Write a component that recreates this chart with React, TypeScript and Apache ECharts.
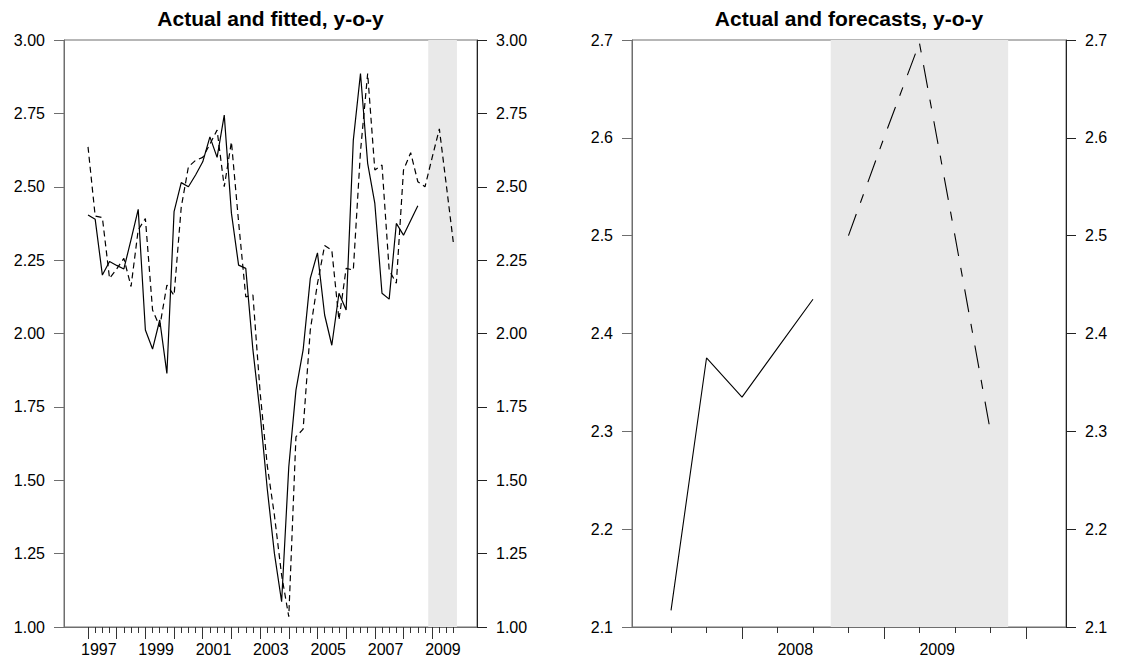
import React, { useEffect, useRef } from "react";
import * as echarts from "echarts";

// quarter index 0 = 1997Q1
const firstYear = 1997;
const leftTitle = "Actual and fitted, y-o-y";
const rightTitle = "Actual and forecasts, y-o-y";

// actual, y-o-y (1997Q1 .. 2008Q3)
const actual = [
  2.404, 2.389, 2.199, 2.245, 2.232, 2.22, 2.32, 2.423,
  2.012, 1.947, 2.046, 1.864, 2.415, 2.514, 2.5, 2.54,
  2.585, 2.67, 2.6, 2.744, 2.41, 2.233, 2.222, 1.944,
  1.728, 1.47, 1.25, 1.086, 1.546, 1.807, 1.944, 2.188,
  2.275, 2.063, 1.96, 2.137, 2.08, 2.659, 2.886, 2.58,
  2.443, 2.137, 2.117, 2.375, 2.335, 2.385, 2.435,
];

// fitted + forecast (1997Q1 .. 2009Q4)
const fitted = [
  2.636, 2.4, 2.395, 2.188, 2.22, 2.256, 2.16, 2.353,
  2.392, 2.08, 2.023, 2.165, 2.13, 2.43, 2.568, 2.59,
  2.6, 2.645, 2.693, 2.5, 2.653, 2.38, 2.125, 2.131,
  1.8, 1.55, 1.38, 1.177, 1.035, 1.648, 1.674, 2.012,
  2.17, 2.3, 2.284, 2.046, 2.222, 2.216, 2.62, 2.886,
  2.557, 2.574, 2.216, 2.171, 2.557, 2.616, 2.517, 2.5,
  2.6, 2.697, 2.5, 2.3,
];

const rightActualStart = 42; // 2007Q3
const forecastStart = 47; // 2008Q4

// x tick positions (quarter indices)
const leftMinorTicks = Array.from({ length: 52 }, (_, i) => i);
const leftMajorTicks = [0, 4, 8, 12, 16, 20, 24, 28, 32, 36, 40, 44, 48];
const leftLabelPos = [1.5, 9.5, 17.5, 25.5, 33.5, 41.5, 49.5];
const rightMinorTicks = [42, 43, 44, 45, 46, 47, 48, 49, 50, 51, 52];
const rightMajorTicks = [44, 48, 52];
const rightLabelPos = [45.5, 49.5];

// shaded forecast window
const leftShade = [47.45, 51.45];
const rightShade = [46.5, 51.5];

const FONT = "'Liberation Sans', Arial, Helvetica, sans-serif";
const AXIS_GRAY = "#6e6e6e";

export default function App() {
  const ref = useRef<HTMLDivElement>(null);

  useEffect(() => {
    const chart = echarts.init(ref.current!, null, { renderer: "svg" });

    const yearFmt = (v: number) => String(firstYear + Math.floor(v / 4));
    const labelStyle = { color: "#000", fontFamily: FONT, fontSize: 16 };

    const xMinor = (grid: number, min: number, max: number, ticks: number[], labels: number[]) => ({
      type: "value",
      gridIndex: grid,
      position: "bottom",
      min,
      max,
      axisLine: { show: true, onZero: false, lineStyle: { color: AXIS_GRAY, width: 1 } },
      axisTick: { show: true, customValues: ticks, length: 6, lineStyle: { color: "#333", width: 1 } },
      axisLabel: { show: true, customValues: labels, formatter: yearFmt, margin: 14, ...labelStyle },
      splitLine: { show: false },
    });
    const xMajor = (grid: number, min: number, max: number, ticks: number[]) => ({
      type: "value",
      gridIndex: grid,
      position: "bottom",
      offset: 0,
      min,
      max,
      axisLine: { show: false, onZero: false },
      axisTick: { show: true, customValues: ticks, length: 12, lineStyle: { color: "#333", width: 1 } },
      axisLabel: { show: false },
      splitLine: { show: false },
    });
    const yAx = (grid: number, pos: string, min: number, max: number, interval: number, dec: number) => ({
      type: "value",
      gridIndex: grid,
      position: pos,
      min,
      max,
      interval,
      axisLine: { show: true, onZero: false, lineStyle: { color: pos === "left" ? AXIS_GRAY : "#222", width: 1 } },
      axisTick: { show: true, length: 10, lineStyle: { color: pos === "left" ? AXIS_GRAY : "#222", width: 1 } },
      axisLabel: { show: true, margin: 19, formatter: (v: number) => v.toFixed(dec), ...labelStyle },
      splitLine: { show: false },
    });

    const shadeSeries = (xi: number, yi: number, range: number[]) => ({
      type: "line",
      xAxisIndex: xi,
      yAxisIndex: yi,
      data: [],
      z: 1,
      silent: true,
      markArea: {
        silent: true,
        itemStyle: { color: "#e9e9e9" },
        data: [[{ xAxis: range[0] }, { xAxis: range[1] }]],
      },
    });

    const line = (xi: number, yi: number, data: number[][], dash: any, width: number) => ({
      type: "line",
      xAxisIndex: xi,
      yAxisIndex: yi,
      data,
      symbol: "none",
      z: 3,
      lineStyle: { color: "#000", width, type: dash },
    });

    const leftActual = actual.map((v, i) => [i, v]);
    const leftFitted = fitted.map((v, i) => [i, v]);
    const rightActual = actual.slice(rightActualStart).map((v, k) => [rightActualStart + k, v]);
    const rightForecast = fitted.slice(forecastStart).map((v, k) => [forecastStart + k, v]);

    chart.setOption({
      animation: false,
      backgroundColor: "#fff",
      grid: [
        { left: 64, top: 40, width: 413, height: 587, show: true, borderColor: AXIS_GRAY, borderWidth: 1, backgroundColor: "transparent" },
        { left: 632, top: 40, width: 434, height: 587, show: true, borderColor: AXIS_GRAY, borderWidth: 1, backgroundColor: "transparent" },
      ],
      xAxis: [
        xMinor(0, -3.35, 54.25, leftMinorTicks, leftLabelPos),
        xMajor(0, -3.35, 54.25, leftMajorTicks),
        xMinor(1, 40.9, 53.13, rightMinorTicks, rightLabelPos),
        xMajor(1, 40.9, 53.13, rightMajorTicks),
      ],
      yAxis: [
        yAx(0, "left", 1, 3, 0.25, 2),
        yAx(0, "right", 1, 3, 0.25, 2),
        yAx(1, "left", 2.1, 2.7, 0.1, 1),
        yAx(1, "right", 2.1, 2.7, 0.1, 1),
      ],
      graphic: [
        {
          type: "text",
          x: 270.5,
          y: 18,
          style: { text: leftTitle, fill: "#000", font: `bold 21px ${FONT}`, textAlign: "center", textVerticalAlign: "middle" },
        },
        {
          type: "text",
          x: 849,
          y: 18,
          style: { text: rightTitle, fill: "#000", font: `bold 21px ${FONT}`, textAlign: "center", textVerticalAlign: "middle" },
        },
      ],
      series: [
        shadeSeries(0, 0, leftShade),
        shadeSeries(2, 2, rightShade),
        line(0, 0, leftActual, "solid", 1.2),
        line(0, 0, leftFitted, [6, 4], 1.2),
        line(2, 2, rightActual, "solid", 1.1),
        line(2, 2, rightForecast, [23, 12, 9, 13], 1.1),
      ],
    });

    return () => chart.dispose();
  }, []);

  return (
    <div
      ref={ref}
      style={{ position: "fixed", left: 0, top: 0, width: 1124, height: 663, background: "#fff" }}
    />
  );
}
